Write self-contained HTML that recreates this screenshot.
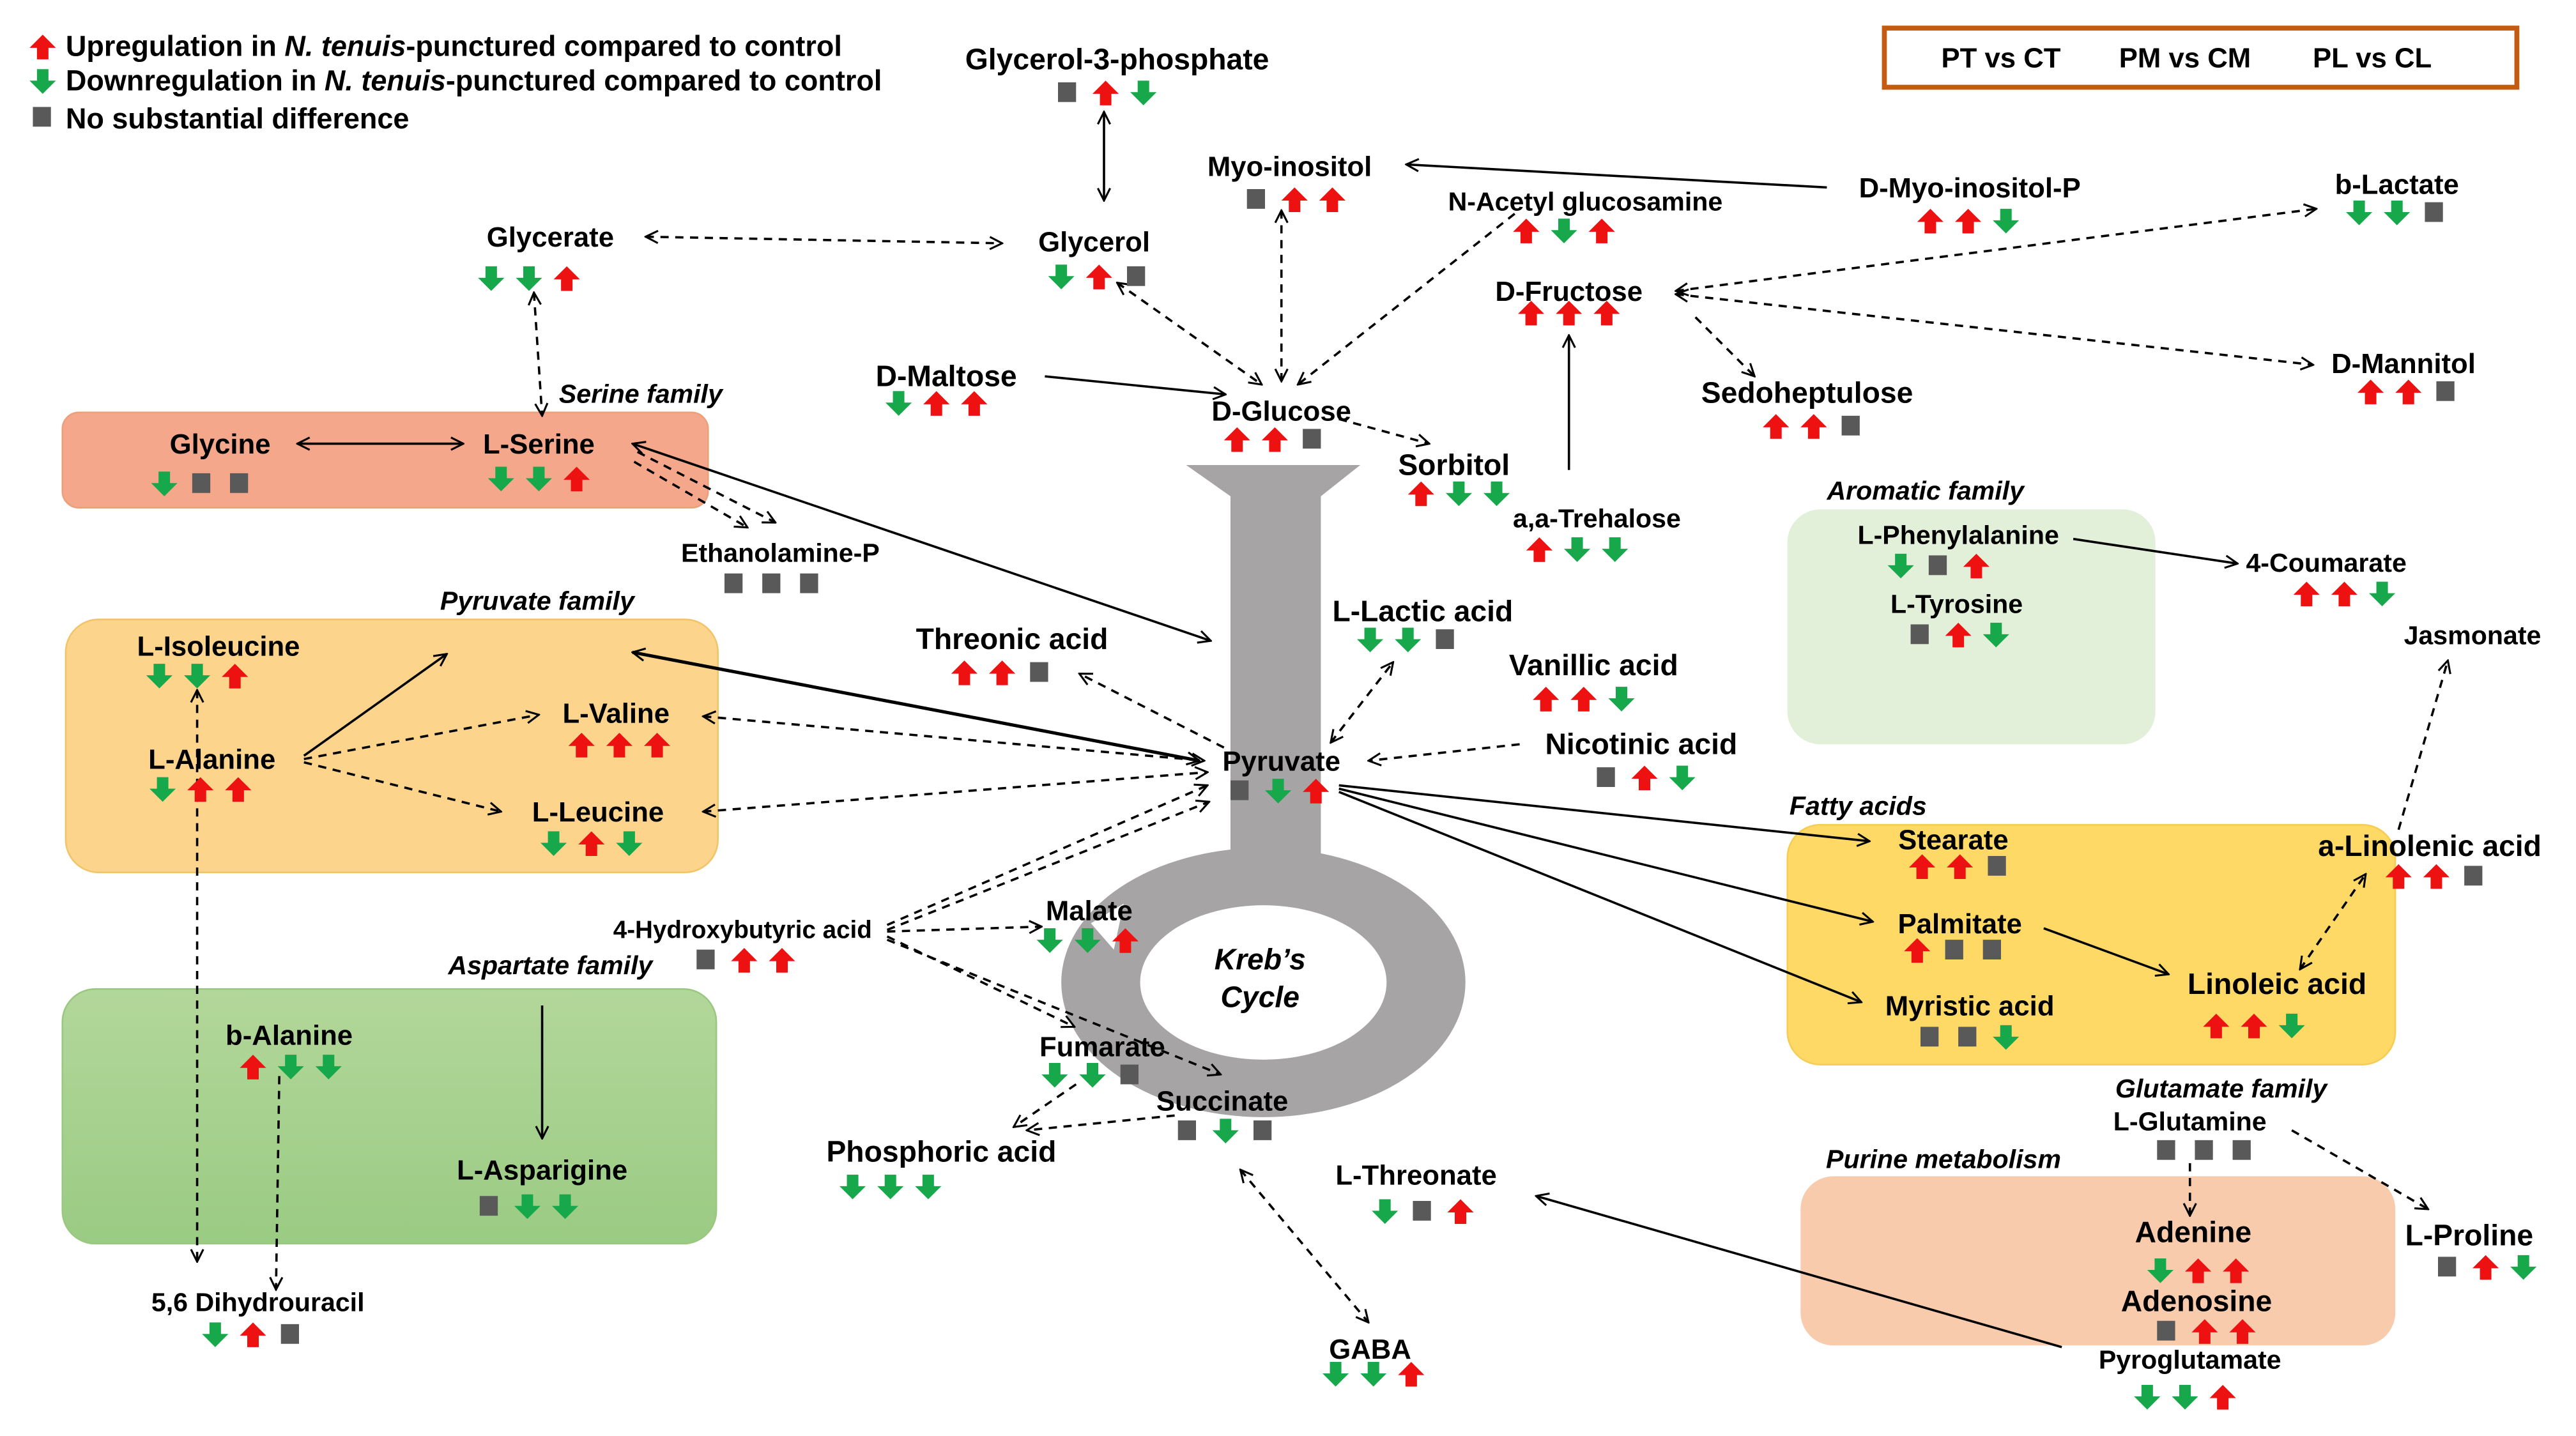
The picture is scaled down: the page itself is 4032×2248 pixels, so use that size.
<!DOCTYPE html>
<html><head><meta charset="utf-8">
<style>
html,body{margin:0;padding:0;background:#fff;}
svg{display:block;}
text{font-family:"Liberation Sans",sans-serif;font-weight:bold;fill:#000;}
.t{font-size:17px;text-anchor:middle;}
.s{font-size:16px;text-anchor:middle;}
.b{font-size:18px;text-anchor:middle;}
.i{font-size:16px;font-style:italic;text-anchor:middle;}
.l{stroke:#000;stroke-width:1.4;fill:none;marker-end:url(#ah);}
.d{stroke-dasharray:5,4;}
.dbl{marker-start:url(#ah);}
</style></head><body>
<svg id="sv" xmlns="http://www.w3.org/2000/svg" width="4032" height="2248" viewBox="0 0 1568 874">
<defs>
<marker id="ah" viewBox="0 0 12 12" refX="11" refY="6" markerWidth="9" markerHeight="9" markerUnits="userSpaceOnUse" orient="auto-start-reverse">
<path d="M1,1 L11,6 L1,11" fill="none" stroke="#000" stroke-width="1.6"/>
</marker>
<g id="u"><polygon points="0,8 8,0 16,8 11.5,8 11.5,15 4.5,15 4.5,8" fill="#ee1111"/></g>
<g id="dn"><polygon points="0,7 4.5,7 4.5,0 11.5,0 11.5,7 16,7 8,15" fill="#17a84b"/></g>
<g id="q"><rect x="2" y="1" width="11" height="12" fill="#595959"/></g>
<linearGradient id="gg" x1="0" y1="0" x2="0" y2="1"><stop offset="0" stop-color="#b3d79a"/><stop offset="1" stop-color="#9acb83"/></linearGradient>
</defs>

<rect x="38" y="251" width="393" height="58" rx="10" fill="#f4a78a" stroke="#eba07a"/>
<rect x="40" y="377" width="397" height="154" rx="20" fill="#fdd48c" stroke="#f2c46a"/>
<rect x="38" y="602" width="398" height="155" rx="20" fill="url(#gg)" stroke="#9ac880"/>
<rect x="1088" y="310" width="224" height="143" rx="20" fill="#e2efd9"/>
<rect x="1088" y="502" width="370" height="146" rx="20" fill="#ffd966" stroke="#f5cd55"/>
<rect x="1096" y="716" width="362" height="103" rx="20" fill="#f8cbad"/>

<ellipse cx="769" cy="598" rx="123" ry="82" fill="#a6a4a4"/>
<rect x="749" y="290" width="55" height="245" fill="#a6a4a4"/>
<polygon points="722,283 828,283 804,302 749,302" fill="#a6a4a4"/>
<polygon points="664,562 684,550 678,578" fill="#fff"/>
<ellipse cx="769" cy="598" rx="75" ry="47" fill="#fff"/>
<text class="i" x="767" y="590" style="font-size:18px">Kreb’s</text>
<text class="i" x="767" y="613" style="font-size:18px">Cycle</text>

<use href="#u" x="18" y="21"/><text x="40" y="34" style="font-size:17.5px">Upregulation in <tspan font-style="italic">N. tenuis</tspan>-punctured compared to control</text>
<use href="#dn" x="18" y="42"/><text x="40" y="55" style="font-size:17.5px">Downregulation in <tspan font-style="italic">N. tenuis</tspan>-punctured compared to control</text>
<use href="#q" x="18" y="64"/><text x="40" y="78" style="font-size:17.5px">No substantial difference</text>
<rect x="1147" y="17" width="385" height="36" fill="none" stroke="#c55a11" stroke-width="3"/>
<text class="t" x="1218" y="41">PT vs CT</text><text class="t" x="1330" y="41">PM vs CM</text><text class="t" x="1444" y="41">PL vs CL</text>

<line class="l dbl" x1="672" y1="68" x2="672" y2="122"/>
<line class="l" x1="1112" y1="114" x2="856" y2="100"/>
<line class="l d dbl" x1="780" y1="128" x2="780" y2="232"/>
<line class="l d" x1="922" y1="130" x2="790" y2="234"/>
<line class="l d dbl" x1="393" y1="144" x2="610" y2="148"/>
<line class="l d dbl" x1="680" y1="172" x2="768" y2="234"/>
<line class="l d dbl" x1="325" y1="178" x2="330" y2="253"/>
<line class="l d dbl" x1="1020" y1="177" x2="1410" y2="127"/>
<line class="l d dbl" x1="1020" y1="179" x2="1408" y2="222"/>
<line class="l d" x1="1032" y1="193" x2="1068" y2="229"/>
<line class="l" x1="955" y1="286" x2="955" y2="204"/>
<line class="l" x1="636" y1="229" x2="746" y2="240"/>
<line class="l d" x1="815" y1="255" x2="870" y2="270"/>
<line class="l dbl" x1="181" y1="270" x2="282" y2="270"/>
<line class="l d" x1="388" y1="275" x2="472" y2="318"/>
<line class="l d" x1="386" y1="281" x2="455" y2="321"/>
<line class="l dbl" x1="385" y1="270" x2="737" y2="390"/>
<line class="l" x1="185" y1="460" x2="272" y2="398"/>
<line class="l d" x1="185" y1="462" x2="328" y2="435"/>
<line class="l d" x1="185" y1="464" x2="305" y2="494"/>
<line class="l dbl" x1="385" y1="397" x2="730" y2="463" style="stroke-width:2"/>
<line class="l d dbl" x1="428" y1="436" x2="733" y2="463"/>
<line class="l d dbl" x1="428" y1="494" x2="735" y2="470"/>
<line class="l d" x1="745" y1="455" x2="657" y2="410"/>
<line class="l d dbl" x1="810" y1="452" x2="848" y2="403"/>
<line class="l d" x1="925" y1="453" x2="833" y2="463"/>
<line class="l" x1="815" y1="478" x2="1138" y2="512"/>
<line class="l" x1="815" y1="480" x2="1140" y2="561"/>
<line class="l" x1="815" y1="482" x2="1133" y2="610"/>
<line class="l d" x1="540" y1="563" x2="735" y2="478"/>
<line class="l d" x1="540" y1="566" x2="736" y2="488"/>
<line class="l d" x1="540" y1="567" x2="634" y2="564"/>
<line class="l d" x1="540" y1="570" x2="654" y2="625"/>
<line class="l d" x1="540" y1="572" x2="743" y2="654"/>
<line class="l d" x1="655" y1="660" x2="617" y2="686"/>
<line class="l d" x1="715" y1="679" x2="625" y2="688"/>
<line class="l" x1="1244" y1="565" x2="1320" y2="593"/>
<line class="l d dbl" x1="1400" y1="590" x2="1440" y2="532"/>
<line class="l d" x1="1460" y1="505" x2="1490" y2="402"/>
<line class="l" x1="1262" y1="328" x2="1362" y2="343"/>
<line class="l d dbl" x1="120" y1="420" x2="120" y2="768"/>
<line class="l d" x1="170" y1="655" x2="168" y2="785"/>
<line class="l" x1="330" y1="612" x2="330" y2="693"/>
<line class="l d" x1="1333" y1="708" x2="1333" y2="740"/>
<line class="l d" x1="1395" y1="688" x2="1478" y2="736"/>
<line class="l" x1="1255" y1="820" x2="935" y2="728"/>
<line class="l d dbl" x1="755" y1="712" x2="833" y2="805"/>

<text class="b" x="680" y="42">Glycerol-3-phosphate</text>
<text class="t" x="785" y="107">Myo-inositol</text>
<text class="t" x="1199" y="120">D-Myo-inositol-P</text>
<text class="s" x="965" y="128">N-Acetyl glucosamine</text>
<text class="t" x="1459" y="118">b-Lactate</text>
<text class="t" x="335" y="150">Glycerate</text>
<text class="t" x="666" y="153">Glycerol</text>
<text class="t" x="955" y="183">D-Fructose</text>
<text class="t" x="1463" y="227">D-Mannitol</text>
<text class="b" x="1100" y="245">Sedoheptulose</text>
<text class="b" x="576" y="235">D-Maltose</text>
<text class="t" x="780" y="256">D-Glucose</text>
<text class="i" x="390" y="245">Serine family</text>
<text class="t" x="134" y="276">Glycine</text>
<text class="t" x="328" y="276">L-Serine</text>
<text class="b" x="885" y="289">Sorbitol</text>
<text class="s" x="972" y="321">a,a-Trehalose</text>
<text class="s" x="475" y="342">Ethanolamine-P</text>
<text class="i" x="1172" y="304">Aromatic family</text>
<text class="s" x="1192" y="331">L-Phenylalanine</text>
<text class="s" x="1416" y="348">4-Coumarate</text>
<text class="s" x="1191" y="373">L-Tyrosine</text>
<text class="i" x="327" y="371">Pyruvate family</text>
<text class="t" x="133" y="399">L-Isoleucine</text>
<text class="b" x="616" y="395">Threonic acid</text>
<text class="b" x="866" y="378">L-Lactic acid</text>
<text class="s" x="1505" y="392">Jasmonate</text>
<text class="b" x="970" y="411">Vanillic acid</text>
<text class="t" x="375" y="440">L-Valine</text>
<text class="b" x="999" y="459">Nicotinic acid</text>
<text class="t" x="129" y="468">L-Alanine</text>
<text class="t" x="780" y="469">Pyruvate</text>
<text class="i" x="1131" y="496">Fatty acids</text>
<text class="t" x="364" y="500">L-Leucine</text>
<text class="t" x="1189" y="517">Stearate</text>
<text x="1411" y="521" style="font-size:18px">a-Linolenic acid</text>
<text class="s" x="452" y="571" style="font-size:15px">4-Hydroxybutyric acid</text>
<text class="t" x="663" y="560">Malate</text>
<text class="t" x="1193" y="568">Palmitate</text>
<text class="i" x="335" y="593">Aspartate family</text>
<text class="b" x="1386" y="605">Linoleic acid</text>
<text class="t" x="1199" y="618">Myristic acid</text>
<text class="t" x="176" y="636">b-Alanine</text>
<text class="t" x="671" y="643">Fumarate</text>
<text class="i" x="1352" y="668">Glutamate family</text>
<text class="t" x="744" y="676">Succinate</text>
<text class="s" x="1333" y="688">L-Glutamine</text>
<text class="b" x="573" y="707">Phosphoric acid</text>
<text class="i" x="1183" y="711">Purine metabolism</text>
<text class="t" x="330" y="718">L-Asparigine</text>
<text class="t" x="862" y="721">L-Threonate</text>
<text class="b" x="1503" y="758">L-Proline</text>
<text class="b" x="1335" y="756">Adenine</text>
<text class="b" x="1337" y="798">Adenosine</text>
<text class="s" x="157" y="798">5,6 Dihydrouracil</text>
<text class="t" x="834" y="827">GABA</text>
<text class="s" x="1333" y="833">Pyroglutamate</text>

<g id="icons"></g>
</svg>
<script>
var I=[[643,50,"qud"],[758,115,"quu"],[1168,128,"uud"],[922,134,"udu"],[1429,123,"ddq"],[292,163,"ddu"],[639,162,"duq"],[925,184,"uuu"],[1436,232,"uuq"],[1074,253,"uuq"],[540,239,"duu"],[746,261,"uuq"],[93,288,"dqq"],[298,285,"ddu"],[858,294,"udd"],[930,328,"udd"],[440,349,"qqq"],[1150,338,"dqu"],[1397,355,"uud"],[1162,380,"qud"],[90,405,"ddu"],[580,403,"uuq"],[827,383,"ddq"],[934,419,"uud"],[347,447,"uuu"],[971,467,"qud"],[92,474,"duu"],[748,475,"qdu"],[330,507,"dud"],[1163,521,"uuq"],[1453,527,"uuq"],[423,578,"quu"],[632,566,"ddu"],[1160,572,"uqq"],[1342,618,"uud"],[1168,625,"qqd"],[147,643,"udd"],[635,648,"ddq"],[716,682,"qdq"],[1312,694,"qqq"],[512,716,"ddd"],[291,728,"qdd"],[836,731,"dqu"],[1483,765,"qud"],[1308,767,"duu"],[1312,804,"quu"],[124,806,"duq"],[806,830,"ddu"],[1300,844,"ddu"]];
var m={u:"#u",d:"#dn",q:"#q"},h="";
I.forEach(function(a){for(var k=0;k<3;k++){h+='<use href="'+m[a[2][k]]+'" x="'+(a[0]+k*23-1)+'" y="'+(a[1]-1)+'"/>';}});
document.getElementById("icons").innerHTML=h;
</script>
</body></html>
